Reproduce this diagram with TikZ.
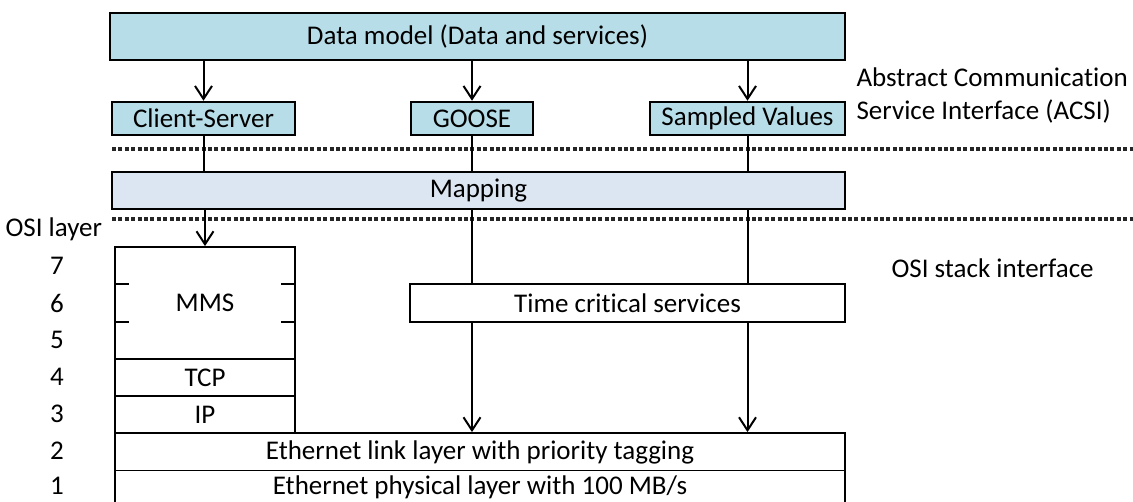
\documentclass[tikz,border=0pt]{standalone}
\usepackage{fontspec}
\setmainfont{Carlito}[RawFeature=-liga]
\usepackage{tikz}
\usetikzlibrary{arrows.meta,calc}
\definecolor{acsiblue}{RGB}{183, 221, 232}
\definecolor{mapblue}{RGB}{220, 230, 242}
\definecolor{textblack}{RGB}{0, 0, 0}

\begin{document}
\begin{tikzpicture}[
        x=1pt, y=-1pt,
        every node/.style={font=\fontsize{27}{32}\selectfont, text=textblack},
        service/.style={rectangle, draw=black, line width=2.5pt, fill=acsiblue, inner sep=0pt},
        mapbox/.style={rectangle, draw=black, line width=2.5pt, fill=mapblue, inner sep=0pt},
        layerbox/.style={rectangle, draw=black, line width=1.8pt, fill=white, inner sep=0pt},
        layernum/.style={inner sep=0pt},
        link/.style={line width=2pt},
        flow/.style={-{Straight Barb[length=13pt, width=17pt, line width=2pt]}, line width=2pt},
        sepline/.style={line width=4pt, dash pattern=on 4pt off 2.4pt, black!85}
    ]
    \useasboundingbox (0,0) rectangle (1133,501);

    % ACSI services
    \node[service, minimum width=735pt, minimum height=47pt] (datamodel) at (477.5, 36.5) {Data model (Data and services)};
    \node[service, minimum width=183pt, minimum height=33pt] (cs) at (203.5, 118.5) {Client-Server};
    \node[service, minimum width=122pt, minimum height=33pt] (goose) at (472, 118.5) {GOOSE};
    \node[service, minimum width=195pt, minimum height=33pt] (sv) at (747.5, 118.5) {Sampled Values};
    \node[anchor=west, align=left] (acsi) at (853, 95) {Abstract Communication\\[1pt]Service Interface (ACSI)};

    % Mapping between the two interfaces
    \node[mapbox, minimum width=733pt, minimum height=37pt] (mapping) at (478.5, 190.5) {Mapping};
    \draw[sepline] (112, 149) -- (1133, 149);
    \draw[sepline] (112, 219) -- (1133, 219);

    % OSI stack
    \node[anchor=west] (osi) at (2, 229) {OSI layer};
    \node[layerbox, minimum width=180pt, minimum height=112pt] (mms) at (205, 303) {MMS};
    \node[layerbox, minimum width=180pt, minimum height=37pt] (tcp) at (205, 377.5) {TCP};
    \node[layerbox, minimum width=180pt, minimum height=37pt] (ip) at (205, 414.5) {IP};
    \node[layerbox, minimum width=435pt, minimum height=38pt] (tcs) at (627.5, 303) {Time critical services};
    \node[layerbox, minimum width=730pt, minimum height=38pt] (ethlink) at (480, 452) {Ethernet link layer with priority tagging};
    \node[layerbox, minimum width=730pt, minimum height=34pt] (ethphys) at (480, 487.5) {Ethernet physical layer with 100 MB/s};
    \node[anchor=west] (osistack) at (888, 268) {OSI stack interface};

    % layer numbers
    \node[layernum] (l7) at (57, 266) {7};
    \node[layernum] (l6) at (57, 303) {6};
    \node[layernum] (l5) at (57, 340) {5};
    \node[layernum] (l4) at (57, 377) {4};
    \node[layernum] (l3) at (57, 414) {3};
    \node[layernum] (l2) at (57, 451) {2};
    \node[layernum] (l1) at (57, 486) {1};

    % MMS covers layers 7 to 5
    \draw[link] ($(mms.north west)!0.333!(mms.south west)$) -- ++(15, 0);
    \draw[link] ($(mms.north west)!0.667!(mms.south west)$) -- ++(15, 0);
    \draw[link] ($(mms.north east)!0.333!(mms.south east)$) -- ++(-15, 0);
    \draw[link] ($(mms.north east)!0.667!(mms.south east)$) -- ++(-15, 0);

    % Flows
    \draw[flow] (datamodel.south -| cs) -- (cs);
    \draw[flow] (datamodel.south -| goose) -- (goose);
    \draw[flow] (datamodel.south -| sv) -- (sv);
    \draw[link] (cs) -- (mapping.north -| cs);
    \draw[link] (goose) -- (mapping.north -| goose);
    \draw[link] (sv) -- (mapping.north -| sv);
    \draw[flow] (mapping.south -| mms) -- (mms);
    \draw[link] (mapping.south -| goose) -- (tcs.north -| goose);
    \draw[link] (mapping.south -| sv) -- (tcs.north -| sv);
    \draw[flow] (tcs.south -| goose) -- (ethlink.north -| goose);
    \draw[flow] (tcs.south -| sv) -- (ethlink.north -| sv);

    \end{tikzpicture}
\end{document}
